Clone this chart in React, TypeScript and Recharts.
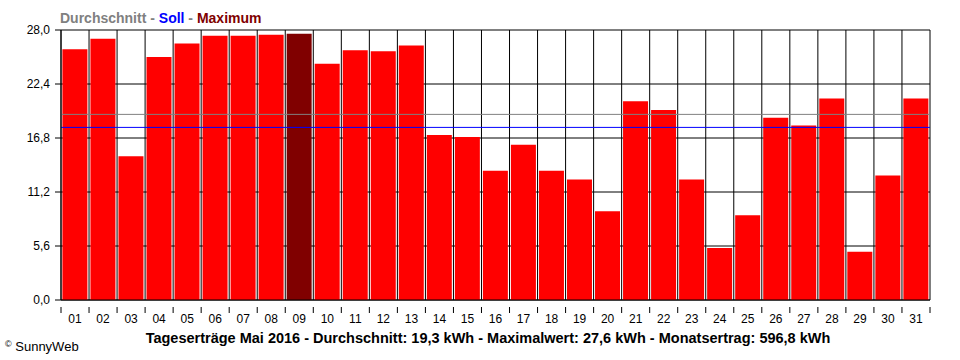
import React from 'react';
import { BarChart, Bar, XAxis, YAxis, CartesianGrid, ReferenceLine, Cell } from 'recharts';

const days = ['01', '02', '03', '04', '05', '06', '07', '08', '09', '10', '11', '12', '13', '14', '15', '16',
  '17', '18', '19', '20', '21', '22', '23', '24', '25', '26', '27', '28', '29', '30', '31'];
const yields = [26.0, 27.1, 14.9, 25.2, 26.6, 27.4, 27.4, 27.5, 27.6, 24.5, 25.9, 25.8, 26.4, 17.1, 16.9, 13.4,
  16.1, 13.4, 12.5, 9.2, 20.6, 19.7, 12.5, 5.4, 8.8, 18.9, 18.1, 20.9, 5.0, 12.9, 20.9];
const yTicks = [0, 5.6, 11.2, 16.8, 22.4, 28.0];
const average = 19.25;
const target = 17.9;
const maxDay = '09';

const data = days.map((day, i) => ({ day, value: yields[i] }));

const FONT = 'Arial, "Liberation Sans", sans-serif';

const fmt = (v: number) => v.toFixed(1).replace('.', ',');

// ticks sit on the day boundaries, labels in the middle
function DayTick(props: any) {
  const { x, y, payload, index, visibleTicksCount } = props;
  const half = payload.offset ?? 14;
  return (
    <g>
      <line x1={x - half} y1={y - 1} x2={x - half} y2={y + 5} stroke="#000" />
      {index === visibleTicksCount - 1 && (
        <line x1={x + half} y1={y - 1} x2={x + half} y2={y + 5} stroke="#000" />
      )}
      <text x={x} y={y + 15} textAnchor="middle" fontSize={12} fontFamily={FONT} fill="#000">
        {payload.value}
      </text>
    </g>
  );
}

function App() {
  return (
    <div style={{ position: 'absolute', left: 0, top: 0, width: 960, height: 360, background: '#fff', fontFamily: FONT }}>
      <div style={{ position: 'absolute', left: 60, top: 10, fontSize: 14, fontWeight: 'bold', whiteSpace: 'nowrap' }}>
        <span style={{ color: '#808080' }}>Durchschnitt</span>
        <span style={{ color: '#808080' }}> - </span>
        <span style={{ color: '#0000ff' }}>Soll</span>
        <span style={{ color: '#808080' }}> - </span>
        <span style={{ color: '#800000' }}>Maximum</span>
      </div>
      <BarChart
        width={960}
        height={360}
        data={data}
        margin={{ top: 30, right: 30, bottom: 30, left: 0 }}
        barCategoryGap="5%"
      >
        <CartesianGrid
          stroke="#000"
          strokeOpacity={1}
          verticalCoordinatesGenerator={({ offset }: any) =>
            days.map((_, i) => offset.left + (i * offset.width) / days.length).concat(offset.left + offset.width)
          }
        />
        <XAxis
          dataKey="day"
          height={30}
          axisLine={{ stroke: '#000' }}
          tickLine={false}
          interval={0}
          tick={<DayTick />}
        />
        <YAxis
          width={61}
          domain={[0, 28]}
          ticks={yTicks}
          tickFormatter={fmt}
          axisLine={{ stroke: '#000' }}
          tickLine={{ stroke: '#000' }}
          tickSize={6}
          tickMargin={5}
          tick={{ fill: '#000', fontSize: 12, fontFamily: FONT }}
        />
        <Bar dataKey="value" isAnimationActive={false}>
          {data.map((d) => (
            <Cell key={d.day} fill={d.day === maxDay ? '#800000' : '#ff0000'} />
          ))}
        </Bar>
        <ReferenceLine y={average} stroke="#808080" strokeWidth={1} />
        <ReferenceLine y={target} stroke="#0000ff" strokeWidth={1} />
      </BarChart>
      <div style={{ position: 'absolute', left: 0, width: 976, top: 330, textAlign: 'center', fontSize: 14.5, fontWeight: 'bold', whiteSpace: 'nowrap' }}>
        Tageserträge Mai 2016 - Durchschnitt: 19,3 kWh - Maximalwert: 27,6 kWh - Monatsertrag: 596,8 kWh
      </div>
      <div style={{ position: 'absolute', left: 5, top: 339, fontSize: 13, whiteSpace: 'nowrap' }}>
        <span style={{ fontSize: 9, verticalAlign: 'top' }}>©</span> SunnyWeb
      </div>
    </div>
  );
}

export default App;
